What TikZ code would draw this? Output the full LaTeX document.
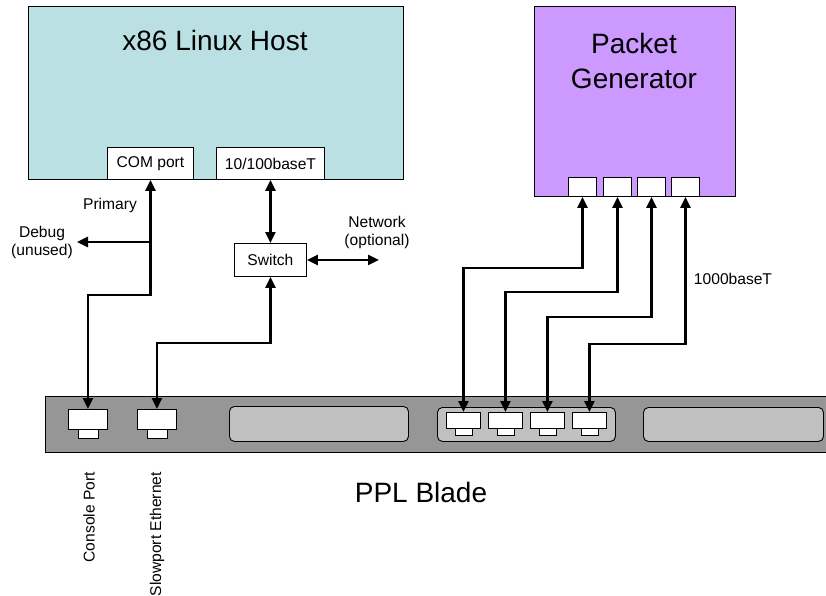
\documentclass[tikz,border=0pt]{standalone}
\usepackage{fontspec}
\setmainfont{Liberation Sans}
\usetikzlibrary{arrows.meta}
\definecolor{hostfill}{HTML}{BBE0E3}
\definecolor{pgfillc}{HTML}{CC99FF}
\definecolor{bladefill}{HTML}{969696}
\definecolor{slotfill}{HTML}{C0C0C0}
\tikzset{
  box/.style={draw=black, line width=0.9pt, inner sep=0pt, anchor=north west},
  portbox/.style={box, fill=white},
  slotbox/.style={box, fill=slotfill, rounded corners=5pt},
  lbl/.style={inner sep=0pt, font=\fontsize{15.6}{18}\selectfont, align=center},
  biglbl/.style={inner sep=0pt, font=\fontsize{28}{35}\selectfont, align=center},
  conn/.style={line width=2.5pt, -{Triangle[length=11pt,width=10pt]}},
  biconn/.style={line width=2.5pt, {Triangle[length=11pt,width=10pt]}-{Triangle[length=11pt,width=10pt]}},
}
\begin{document}
\begin{tikzpicture}[x=1pt,y=-1pt]
\useasboundingbox (0,0) rectangle (826,596);
% host
\node (host) [box, fill=hostfill, minimum width=375pt, minimum height=173pt] at (28,6) {};
\node (hosttitle) [biglbl] at (215,40) {x86 Linux Host};
\node (com) [portbox, minimum width=86pt, minimum height=32pt] at (107,147) {};
\node (comt) [lbl] at (com.center) {COM port};
\node (nic) [portbox, minimum width=108pt, minimum height=32pt] at (216,147) {};
\node (nict) [lbl] at (nic.center) {10/100baseT};
\node (sw) [portbox, minimum width=72pt, minimum height=33pt] at (234,243) {};
\node (swt) [lbl] at (sw.center) {Switch};
% packet generator
\node (pg) [box, fill=pgfillc, minimum width=201pt, minimum height=190pt] at (534,6) {};
\node (pgt) [biglbl] at (634,61) {Packet\\Generator};
\node (g1) [portbox, minimum width=28pt, minimum height=19pt] at (568,177) {};
\node (g2) [portbox, minimum width=28pt, minimum height=19pt] at (603,177) {};
\node (g3) [portbox, minimum width=28pt, minimum height=19pt] at (637,177) {};
\node (g4) [portbox, minimum width=28pt, minimum height=19pt] at (671,177) {};
% blade
\node (blade) [box, fill=bladefill, minimum width=790pt, minimum height=56pt] at (45,396) {};
\node (cp1) [portbox, minimum width=39pt, minimum height=20pt] at (68,409) {};
\node (cp1t) [portbox, minimum width=20pt, minimum height=9pt] at (78,429) {};
\node (cp2) [portbox, minimum width=39pt, minimum height=20pt] at (137,409) {};
\node (cp2t) [portbox, minimum width=20pt, minimum height=9pt] at (147,429) {};
\node (slot1) [slotbox, minimum width=179pt, minimum height=35pt] at (229,406) {};
\node (grp) [slotbox, minimum width=178pt, minimum height=34pt] at (437,407) {};
\node (slot2) [slotbox, minimum width=180pt, minimum height=34pt] at (643,407) {};
\foreach \i/\x in {1/446,2/488,3/530,4/572}{
  \node (b\i) [portbox, minimum width=34pt, minimum height=16pt] at (\x,412) {};
  \node (b\i t) [portbox, minimum width=17pt, minimum height=7pt] at (\x+8.5,428) {};
}
\node (bladet) [biglbl] at (421,492) {PPL Blade};
\node (cpl) [lbl, rotate=90, anchor=east] at (89,472) {Console Port};
\node (spl) [lbl, rotate=90, anchor=east] at (157,472) {Slowport Ethernet};
% labels
\node (prim) [lbl] at (110,205) {Primary};
\node (dbgt) [lbl] at (42,242) {Debug\\(unused)};
\node (nett) [lbl] at (377,232) {Network\\(optional)};
\node (gig) [lbl] at (733,279) {1000baseT};
% connectors
\coordinate (dbg) at (77,242);
\coordinate (netend) at (379,261);
\draw[biconn] (com.south) -- ++(0,115) -| (cp1.north);
\draw[conn] (com.south |- dbg) -- (dbg);
\draw[biconn] (nic.south) -- (sw.north);
\draw[biconn] (sw.east) -- (sw.east -| netend);
\draw[biconn] (sw.south) -- ++(0,66) -| (cp2.north);
\draw[biconn] (g1.south) -- ++(0,71) -| (b1.north);
\draw[biconn] (g2.south) -- ++(0,95) -| (b2.north);
\draw[biconn] (g3.south) -- ++(0,120) -| (b3.north);
\draw[biconn] (g4.south) -- ++(0,147) -| (b4.north);
\end{tikzpicture}
\end{document}
